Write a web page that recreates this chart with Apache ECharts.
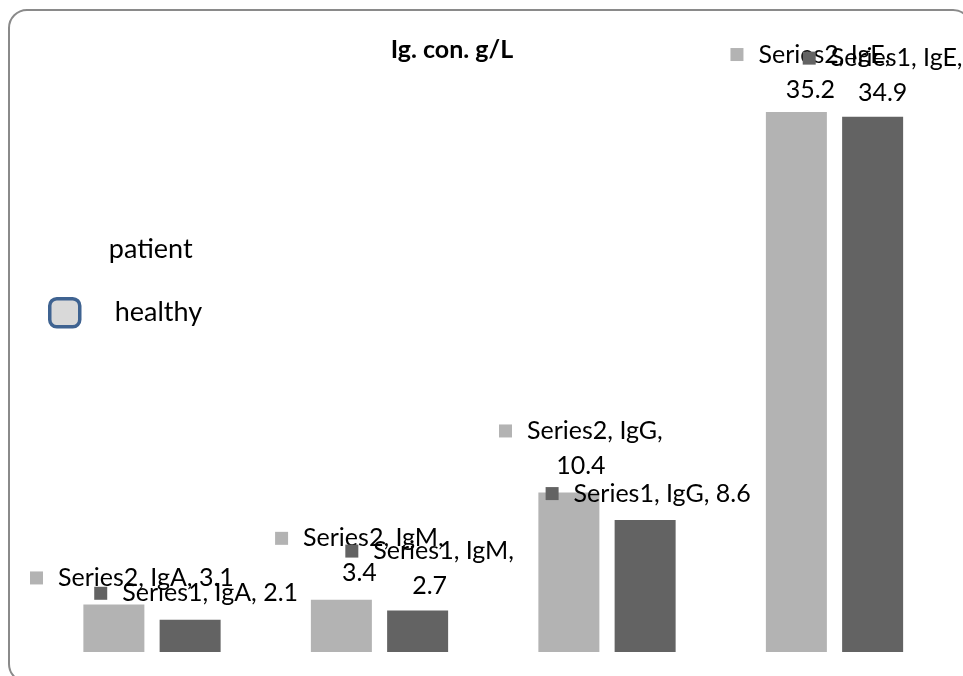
<!DOCTYPE html>
<html>
<head>
<meta charset="utf-8">
<script src="https://cdn.jsdelivr.net/npm/echarts@6/dist/echarts.min.js"></script>
<style>
html,body{margin:0;padding:0;background:#fff;}
#chart{width:963px;height:676px;}
</style>
</head>
<body>
<div id="chart"></div>
<script>
// ---- data ----
const categories = ['IgA', 'IgM', 'IgG', 'IgE'];
const series2Values = [3.1, 3.4, 10.4, 35.2];
const series1Values = [2.1, 2.7, 8.6, 34.9];
const seriesLabelNames = ['Series2', 'Series1'];
const legendNames = ['patient', 'healthy'];
const titleText = 'Ig. con. g/L';

// ---- label layout (style only) ----
const labelLayout = [
  // series2: [dx, dy, wrapValue]
  [[18, 0, false], [18, 0, true], [12, 0, true], [14, 4, true]],
  // series1
  [[6, 0, false], [12, 2, true], [3, 0, false], [10, 3, true]]
];
const colors = ['#b3b3b3', '#636363'];
const FONT = 'Lato';

function makeSeries(si, values) {
  return {
    name: legendNames[si],
    type: 'bar',
    barWidth: 61,
    barGap: '25%',
    itemStyle: { color: colors[si] },
    data: values.map((v, i) => {
      const L = labelLayout[si][i];
      return {
        value: v,
        label: { offset: [L[0], L[1]] }
      };
    }),
    label: {
      show: true,
      position: 'top',
      distance: 9,
      formatter: function (p) {
        const L = labelLayout[si][p.dataIndex];
        const head = seriesLabelNames[si] + ', ' + categories[p.dataIndex] + ',';
        if (L[2]) {
          return '{m|}{s|}{t|' + head + '}\n{t|' + p.value + '}';
        }
        return '{m|}{s|}{t|' + head + ' ' + p.value + '}';
      },
      rich: {
        m: { width: 13, height: 13, backgroundColor: colors[si] },
        s: { width: 15 },
        t: { fontFamily: FONT, fontSize: 25, color: '#000', lineHeight: 35 }
      }
    }
  };
}

const chart = echarts.init(document.getElementById('chart'), null, { renderer: 'canvas' });
chart.setOption({
  animation: false,
  backgroundColor: '#fff',
  title: {
    text: titleText,
    left: 452, top: 37,
    padding: 0,
    textAlign: 'center',
    textStyle: { fontFamily: FONT, fontWeight: 'bold', fontSize: 25, color: '#000' }
  },
  legend: {
    orient: 'vertical',
    left: 48, top: 235,
    padding: 0,
    itemWidth: 30, itemHeight: 28,
    itemGap: 34,
    icon: 'roundRect',
    textStyle: { fontFamily: FONT, fontSize: 27, color: '#000', lineHeight: 28 },
    data: [
      { name: legendNames[0], itemStyle: { opacity: 0 }, textStyle: { padding: [0, 0, 0, 24] } },
      { name: legendNames[1], itemStyle: { color: '#d9d9d9', borderColor: '#3f6391', borderWidth: 3.5 }, textStyle: { padding: [0, 0, 0, 30] } }
    ]
  },
  grid: { left: 38.25, right: 14.75, top: 38.4, bottom: 24 },
  xAxis: {
    type: 'category',
    data: categories,
    axisLine: { show: false },
    axisTick: { show: false },
    axisLabel: { show: false }
  },
  yAxis: {
    type: 'value',
    min: 0, max: 40,
    show: false,
    splitLine: { show: false }
  },
  graphic: [{
    type: 'rect',
    shape: { x: 9, y: 10, width: 962, height: 672, r: 18 },
    style: { fill: 'none', stroke: '#8a8a8a', lineWidth: 2 },
    silent: true,
    z: -1
  }],
  series: [makeSeries(0, series2Values), makeSeries(1, series1Values)]
});
</script>
</body>
</html>
